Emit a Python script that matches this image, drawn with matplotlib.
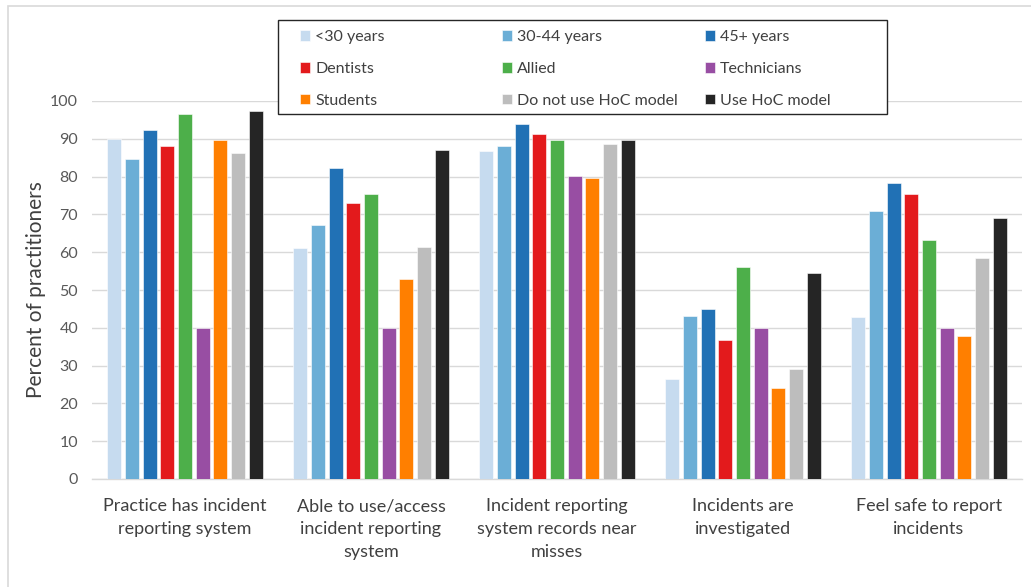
import matplotlib
matplotlib.use("Agg")
import matplotlib.pyplot as plt
import numpy as np
from matplotlib.patches import Rectangle

# Survey questions (x categories)
categories = [
    "Practice has incident\nreporting system",
    "Able to use/access\nincident reporting\nsystem",
    "Incident reporting\nsystem records near\nmisses",
    "Incidents are\ninvestigated",
    "Feel safe to report\nincidents",
]

# Practitioner groups
series_names = [
    "<30 years", "30-44 years", "45+ years",
    "Dentists", "Allied", "Technicians",
    "Students", "Do not use HoC model", "Use HoC model",
]

# Percent of practitioners answering yes, per group
under_30 = [89.9, 61.2, 86.9, 26.5, 42.9]
age_30_44 = [84.6, 67.3, 88.1, 43.1, 70.8]
age_45_plus = [92.4, 82.2, 93.8, 44.9, 78.4]
dentists = [88.1, 72.9, 91.4, 36.9, 75.3]
allied = [96.6, 75.5, 89.7, 56.2, 63.2]
technicians = [40.0, 40.0, 80.2, 40.0, 40.0]
students = [89.8, 52.9, 79.5, 24.1, 37.9]
no_hoc = [86.2, 61.5, 88.5, 29.0, 58.4]
use_hoc = [97.4, 87.1, 89.8, 54.6, 69.0]

series_values = [under_30, age_30_44, age_45_plus, dentists, allied,
                 technicians, students, no_hoc, use_hoc]

colors = ["#C6DBEF", "#6BAED6", "#2171B5", "#E31A1C", "#4DAF4A",
          "#984EA3", "#FF7F00", "#BDBDBD", "#252525"]

yticks = list(range(0, 101, 10))

plt.rcParams["font.family"] = ["Lato", "DejaVu Sans"]

fig = plt.figure(figsize=(10.31, 5.87), dpi=100)
W, H = 1031, 587
ax = fig.add_axes([92 / W, 1 - 479 / H, (1022 - 92) / W, (479 - 101) / H])

# light chart border along top and left edges
fig.patches.append(Rectangle((8 / W, -0.1), 1.2, 1 - 6 / H + 0.1,
                             transform=fig.transFigure, fill=False,
                             edgecolor="#D9D9D9", linewidth=1.2, zorder=0))

x = np.arange(len(categories))
pitch = 0.095
width = 0.075
n = len(series_names)
handles = []
for i, (name, vals, col) in enumerate(zip(series_names, series_values, colors)):
    offs = (i - (n - 1) / 2) * pitch
    bars = ax.bar(x + offs, vals, width=width, color=col, label=name,
                  edgecolor="white", linewidth=0.4, zorder=3)
    handles.append(bars)

ax.set_xlim(-0.5, len(categories) - 0.5)
ax.set_ylim(0, 100)
ax.set_yticks(yticks)
ax.yaxis.grid(True, color="#D9D9D9", linewidth=1.0, zorder=0)
ax.set_axisbelow(True)
for s in ["top", "right", "left"]:
    ax.spines[s].set_visible(False)
ax.spines["bottom"].set_color("#D9D9D9")
ax.spines["bottom"].set_linewidth(1.0)
ax.tick_params(axis="both", length=0, colors="#595959", labelsize=11.5)
ax.tick_params(axis="y", pad=10)
ax.tick_params(axis="x", pad=14)
ax.set_xticks(x)
ax.set_xticklabels(categories, fontsize=13, color="#404040", linespacing=1.52)
ax.set_ylabel("Percent of practitioners", fontsize=15, color="#404040")
ax.yaxis.set_label_coords(-46 / 930, 0.5)

# legend: white box with three evenly spaced columns
box_l, box_t, box_r, box_b = 278, 20, 887, 114
fig.patches.append(Rectangle((box_l / W, 1 - box_b / H), (box_r - box_l) / W,
                             (box_b - box_t) / H, transform=fig.transFigure,
                             facecolor="white", edgecolor="#262626",
                             linewidth=1.0, zorder=5))
col_x = [300, 502, 705]
for c in range(3):
    idx = [c, c + 3, c + 6]
    leg = fig.legend([handles[k] for k in idx], [series_names[k] for k in idx],
                     loc="upper left", bbox_to_anchor=(col_x[c] / W, 1 - 30 / H),
                     frameon=False, fontsize=11.5, handlelength=0.65,
                     handleheight=0.65, handletextpad=0.3, labelspacing=1.12,
                     borderpad=0, borderaxespad=0)
    leg.set_zorder(6)
    for t in leg.get_texts():
        t.set_color("#404040")

fig.savefig("out.png", dpi=100, facecolor="white")
